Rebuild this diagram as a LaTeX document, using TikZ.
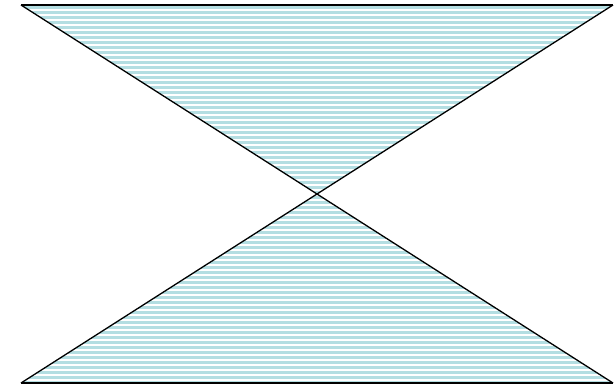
\documentclass[tikz,border=0pt]{standalone}
\definecolor{stripe}{RGB}{180,222,226}
\tikzset{edge/.style={black,line width=1.3pt},stripeline/.style={stripe,line width=3pt}}
\begin{document}
\begin{tikzpicture}[x=1pt,y=-1pt]
\useasboundingbox (0,0) rectangle (616,386);
\coordinate (tl) at (21,5);
\coordinate (tr) at (613,5);
\coordinate (bl) at (21,383);
\coordinate (br) at (613,383);
\coordinate (c) at (317,194);
\begin{scope}
\clip (tl) -- (tr) -- (c) -- cycle (bl) -- (br) -- (c) -- cycle;
\foreach \y in {7,12,...,385} {\draw[stripeline] (0,\y) -- (616,\y);}
\end{scope}
\draw[edge] (tl) -- (tr);
\draw[edge] (bl) -- (br);
\draw[edge] (tl) -- (br);
\draw[edge] (tr) -- (bl);
\end{tikzpicture}
\end{document}
